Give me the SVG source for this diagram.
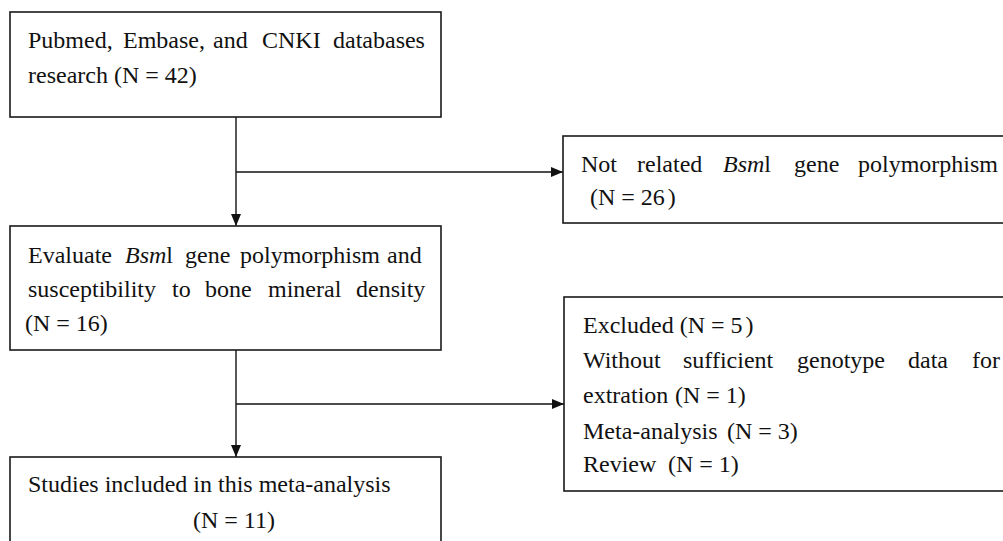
<svg xmlns="http://www.w3.org/2000/svg" width="1003" height="541" viewBox="0 0 1003 541">
<style>
.box{fill:#fff;stroke:#1a1a1a;stroke-width:1.6}
.t{font-family:"Liberation Serif","Times New Roman",serif;font-size:24px;fill:#111}
.i{font-style:italic}
.c{fill:none;stroke:#111;stroke-width:1.4}
</style>
<defs>
<marker id="ah" markerUnits="userSpaceOnUse" markerWidth="12" markerHeight="10" refX="12" refY="5" orient="auto">
<path d="M0,0 L12,5 L0,10 z" fill="#111"/>
</marker>
</defs>
<rect width="1003" height="541" fill="#fff"/>
<g id="connectors">
<line class="c" x1="236" y1="117" x2="236" y2="226" marker-end="url(#ah)"/>
<line class="c" x1="236" y1="172" x2="563" y2="172" marker-end="url(#ah)"/>
<line class="c" x1="236" y1="350" x2="236" y2="457" marker-end="url(#ah)"/>
<line class="c" x1="236" y1="404" x2="564" y2="404" marker-end="url(#ah)"/>
</g>
<g id="n1">
<rect class="box" x="10" y="12" width="431" height="105"/>
<text class="t" y="48"><tspan x="28">Pubmed,</tspan><tspan x="123">Embase,</tspan><tspan x="213">and</tspan><tspan x="262">CNKI</tspan><tspan x="333">databases</tspan></text>
<text class="t" x="28" y="83">research (N = 42)</text>
</g>
<g id="n2">
<rect class="box" x="563" y="136" width="450" height="87"/>
<text class="t" y="172"><tspan x="581">Not</tspan><tspan x="637">related</tspan><tspan x="723" class="i">Bsm</tspan><tspan>l</tspan><tspan x="794">gene</tspan><tspan x="858">polymorphism</tspan></text>
<text class="t" x="590" y="205">(N = 26<tspan dx="3">)</tspan></text>
</g>
<g id="n3">
<rect class="box" x="10" y="226" width="431" height="124"/>
<text class="t" y="263"><tspan x="28">Evaluate</tspan><tspan x="125" class="i">Bsm</tspan><tspan>l</tspan><tspan x="185">gene</tspan><tspan x="240">polymorphism</tspan><tspan x="387">and</tspan></text>
<text class="t" y="297"><tspan x="28">susceptibility</tspan><tspan x="172">to</tspan><tspan x="205">bone</tspan><tspan x="268">mineral</tspan><tspan x="356">density</tspan></text>
<text class="t" x="25" y="331">(N = 16)</text>
</g>
<g id="n4">
<rect class="box" x="564" y="297" width="450" height="194"/>
<text class="t" y="333"><tspan x="583">Excluded (N = 5</tspan><tspan dx="3">)</tspan></text>
<text class="t" y="368"><tspan x="583">Without</tspan><tspan x="683">sufficient</tspan><tspan x="797">genotype</tspan><tspan x="908">data</tspan><tspan x="972">for</tspan></text>
<text class="t" y="403"><tspan x="583">extration</tspan><tspan x="675">(N = 1)</tspan></text>
<text class="t" y="439"><tspan x="583">Meta-analysis</tspan><tspan x="727">(N = 3)</tspan></text>
<text class="t" y="472"><tspan x="583">Review</tspan><tspan x="668">(N = 1)</tspan></text>
</g>
<g id="n5">
<rect class="box" x="10" y="457" width="431" height="100"/>
<text class="t" x="28" y="492">Studies included in this meta-analysis</text>
<text class="t" x="193" y="528">(N = 11)</text>
</g>
</svg>
